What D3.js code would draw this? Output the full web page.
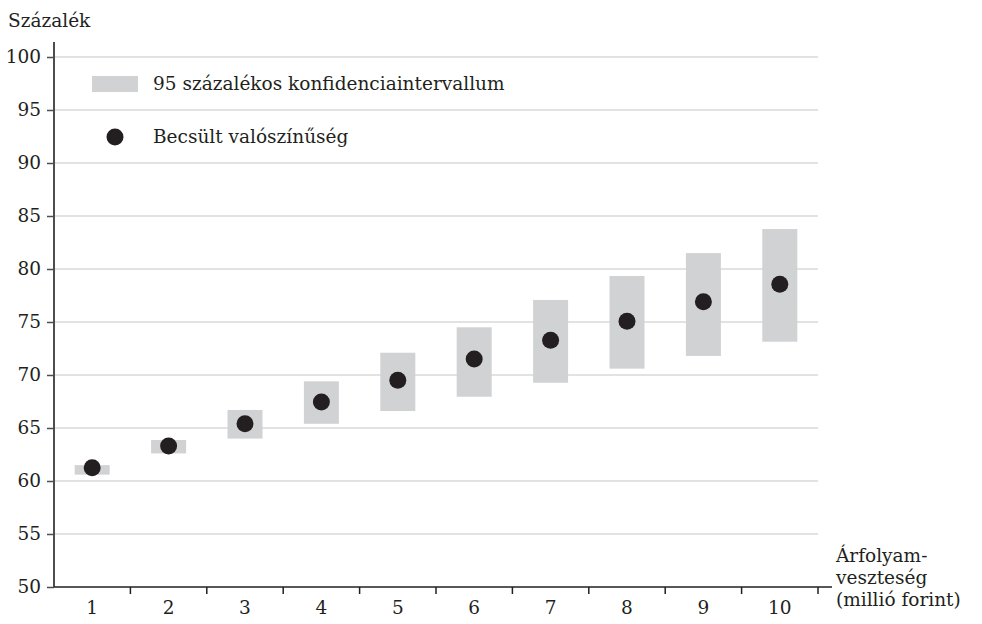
<!DOCTYPE html>
<html>
<head>
<meta charset="utf-8">
<script src="https://cdn.jsdelivr.net/npm/d3@7"></script>
<style>
body { margin: 0; background: #fff; }
text { font-family: "DejaVu Serif", serif; fill: #231f20; }
</style>
</head>
<body>
<div class="graphic"></div>
<script>
var width = 982;
var height = 624;
var fs = 18.5;

// data
var categories = ["1", "2", "3", "4", "5", "6", "7", "8", "9", "10"];
var estimate = [61.25, 63.3, 65.4, 67.45, 69.5, 71.5, 73.27, 75.07, 76.9, 78.56];
var ciLow = [60.6, 62.6, 64.0, 65.4, 66.6, 67.95, 69.27, 70.6, 71.8, 73.14];
var ciHigh = [61.5, 63.87, 66.7, 69.4, 72.1, 74.5, 77.08, 79.34, 81.5, 83.77];
var yTicks = [50, 55, 60, 65, 70, 75, 80, 85, 90, 95, 100];
var legendLabels = ["95 százalékos konfidenciaintervallum", "Becsült valószínűség"];
var xTitle = ["Árfolyam-", "veszteség", "(millió forint)"];

var margin = {left: 54, right: 164, top: 57, bottom: 37};

var svg = d3.select("div.graphic").append("svg")
	.attr("width", width)
	.attr("height", height);

var x = d3.scaleBand()
	.domain(categories)
	.range([margin.left, width - margin.right]);
var y = d3.scaleLinear()
	.domain([50, 100])
	.range([height - margin.bottom, margin.top]);

// gridlines
svg.append("g").selectAll("line")
	.data(yTicks.slice(1))
	.enter()
	.append("line")
	.attr("x1", margin.left)
	.attr("x2", width - margin.right)
	.attr("y1", function(d){ return y(d); })
	.attr("y2", function(d){ return y(d); })
	.attr("stroke", "#d9d9d9")
	.attr("stroke-width", 1.5);

// confidence bars
var bw = 35;
svg.append("g").selectAll("rect")
	.data(categories)
	.enter()
	.append("rect")
	.attr("x", function(d){ return x(d) + x.bandwidth()/2 - bw/2; })
	.attr("width", bw)
	.attr("y", function(d, i){ return y(ciHigh[i]); })
	.attr("height", function(d, i){ return y(ciLow[i]) - y(ciHigh[i]); })
	.attr("fill", "#d1d2d4");

// estimated points
svg.append("g").selectAll("circle")
	.data(categories)
	.enter()
	.append("circle")
	.attr("cx", function(d){ return x(d) + x.bandwidth()/2; })
	.attr("cy", function(d, i){ return y(estimate[i]); })
	.attr("r", 8.5)
	.attr("fill", "#231f20");

// y axis
var yAxis = svg.append("g")
	.attr("transform", "translate(" + margin.left + ",0)")
	.call(d3.axisLeft(y).tickValues(yTicks).tickSize(7).tickPadding(6));
yAxis.select(".domain").remove();
yAxis.append("line")
	.attr("x1", 0).attr("x2", 0)
	.attr("y1", 42).attr("y2", y(50))
	.attr("stroke", "#4d4d4f").attr("stroke-width", 2);
yAxis.selectAll(".tick line").attr("stroke", "#4d4d4f").attr("stroke-width", 1.5);
yAxis.selectAll(".tick text").attr("font-size", fs).attr("fill", "#231f20")
	.attr("font-family", "DejaVu Serif");

// x axis, ticks between categories
var xAxis = svg.append("g")
	.attr("transform", "translate(0," + y(50) + ")");
xAxis.append("line")
	.attr("x1", margin.left).attr("x2", 832)
	.attr("stroke", "#231f20").attr("stroke-width", 1.5);
xAxis.selectAll("line.tk")
	.data(categories)
	.enter()
	.append("line")
	.attr("class", "tk")
	.attr("x1", function(d){ return x(d) + x.bandwidth(); })
	.attr("x2", function(d){ return x(d) + x.bandwidth(); })
	.attr("y1", 0).attr("y2", 7)
	.attr("stroke", "#231f20").attr("stroke-width", 1.5);
xAxis.selectAll("text")
	.data(categories)
	.enter()
	.append("text")
	.attr("x", function(d){ return x(d) + x.bandwidth()/2; })
	.attr("y", 27)
	.attr("text-anchor", "middle")
	.attr("font-size", fs)
	.text(function(d){ return d; });

// axis titles
svg.append("text")
	.attr("x", 8).attr("y", 27)
	.attr("font-size", fs)
	.text("Százalék");
svg.append("g").selectAll("text")
	.data(xTitle)
	.enter()
	.append("text")
	.attr("x", 836)
	.attr("y", function(d, i){ return 562 + i * 22; })
	.attr("font-size", fs)
	.text(function(d){ return d; });

// legend
var legend = svg.append("g");
legend.append("rect")
	.attr("x", 92).attr("y", 76)
	.attr("width", 46).attr("height", 16)
	.attr("fill", "#d1d2d4");
legend.append("circle")
	.attr("cx", 115).attr("cy", 137)
	.attr("r", 8.5)
	.attr("fill", "#231f20");
legend.selectAll("text")
	.data(legendLabels)
	.enter()
	.append("text")
	.attr("x", 153)
	.attr("y", function(d, i){ return 90 + i * 53; })
	.attr("font-size", fs)
	.text(function(d){ return d; });
</script>
</body>
</html>
